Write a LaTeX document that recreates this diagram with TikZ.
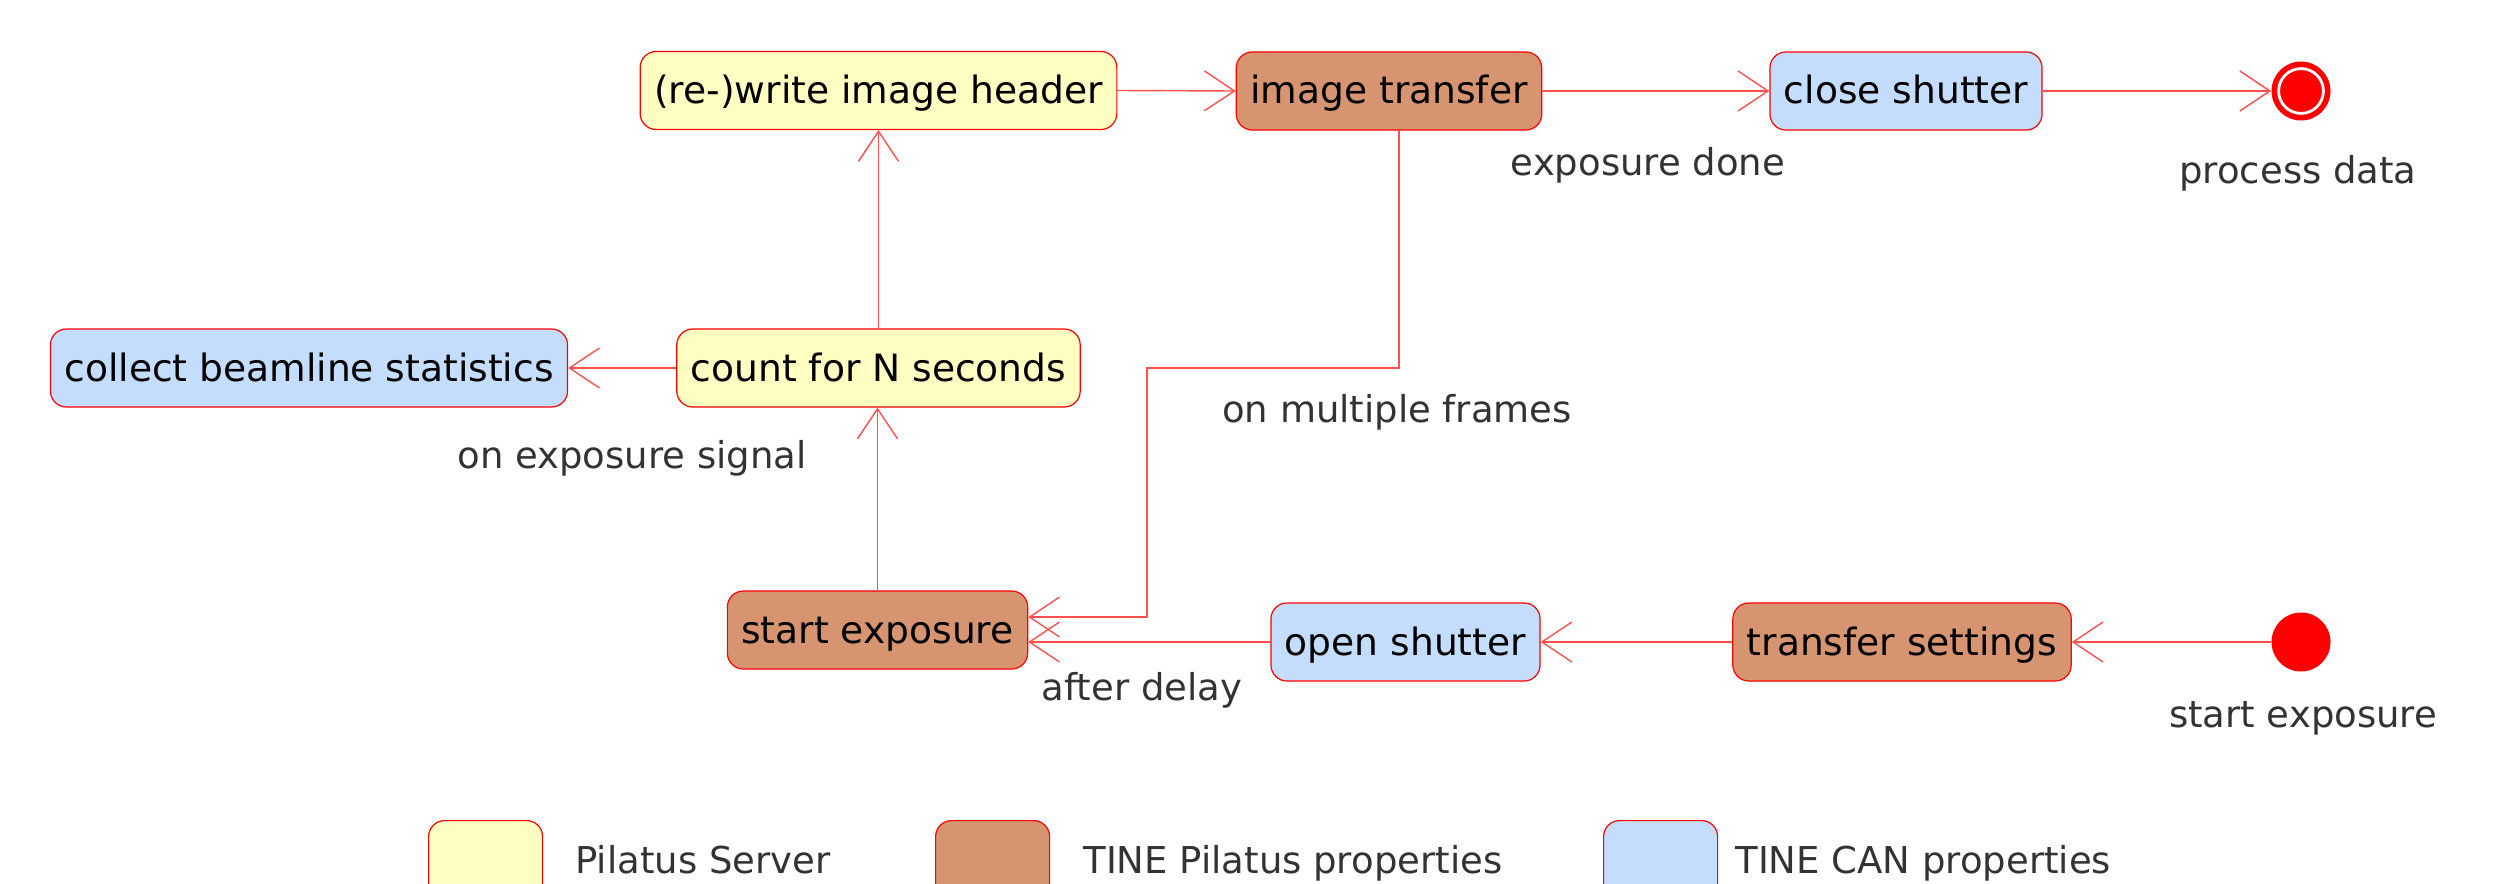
\documentclass[tikz,border=0pt]{standalone}
\usepackage{fontspec}
\setmainfont{DejaVu Sans}
\usetikzlibrary{arrows.meta,calc}
\definecolor{ylw}{HTML}{FEFEC2}
\definecolor{brn}{HTML}{D69570}
\definecolor{blu}{HTML}{C4DDFC}
\definecolor{lnc}{HTML}{FF5050}
\definecolor{lbl}{HTML}{333333}
\tikzset{
  statebox/.style={draw=red, line width=0.6pt, rounded corners=8pt, minimum height=39pt,
    inner xsep=7pt, inner ysep=0pt, text=black, text height=16pt, text depth=3pt,
    font=\fontsize{18.8}{22}\selectfont},
  yst/.style={statebox, fill=ylw},
  bst/.style={statebox, fill=brn},
  cst/.style={statebox, fill=blu},
  dot/.style={circle, fill=red, minimum size=29.5pt, inner sep=0pt},
  arr/.style={draw=lnc, line width=0.7pt, -{Straight Barb[length=15pt,width=20pt,line width=0.7pt]}},
  lab/.style={text=lbl, anchor=base, inner sep=0pt},
  legbox/.style={minimum width=57pt, minimum height=40pt, anchor=north west}
}
\begin{document}
\begin{tikzpicture}[x=0.5pt, y=-0.5pt, font=\fontsize{18.5}{22}\selectfont]
\useasboundingbox (0,0) rectangle (2493,883);
\clip (0,0) rectangle (2493,883);
% states
\node[yst] (hdr) at (878.5,90.5) {(re-)write image header};
\node[bst] (itr) at (1389,91) {image transfer};
\node[cst] (cls) at (1906,91) {close shutter};
\node[dot] (fin) at (2301,91) {};
\draw[white, line width=1.4pt] (fin.center) circle[radius=11.2pt];
\node[cst] (col) at (309,368) {collect beamline statistics};
\node[yst] (cnt) at (878.5,368) {count for N seconds};
\node[bst] (sex) at (877.5,630) {start exposure};
\node[cst] (opn) at (1405.5,642) {open shutter};
\node[bst] (trs) at (1902,642) {transfer settings};
\node[dot] (ini) at (2301,642) {};
\coordinate (bend) at (1147,368);
% connectors
\draw[arr] (hdr.east) -- (itr.west);
\draw[arr] (itr.east) -- (cls.west);
\draw[arr] (cls.east) -- (fin.west);
\draw[arr] (cnt.north) -- (hdr.south);
\draw[arr] (cnt.west) -- (col.east);
\draw[arr] (sex.north) -- (cnt.south -| sex.north);
\draw[arr] (ini.west) -- (trs.east);
\draw[arr] (trs.west) -- (opn.east);
\draw[arr] (opn.west) -- (opn.west -| sex.east);
\draw[arr] ($(itr.south)+(10,0)$) |- (bend) |- ($(sex.east)+(0,-13)$);
% labels
\node[lab] (l1) at (1648,175) {exposure done};
\node[lab] (l2) at (2298,183) {process data};
\node[lab] (l3) at (632,468) {on exposure signal};
\node[lab] (l4) at (1397,422) {on multiple frames};
\node[lab] (l5) at (1142,700) {after delay};
\node[lab] (l6) at (2303,727) {start exposure};
% legend
\node[yst, legbox] (lg1) at (428,820) {};
\node[bst, legbox] (lg2) at (935,820) {};
\node[cst, legbox] (lg3) at (1603,820) {};
\node[lab, anchor=base west] (lt1) at (575,873) {Pilatus Server};
\node[lab, anchor=base west] (lt2) at (1083,873) {TINE Pilatus properties};
\node[lab, anchor=base west] (lt3) at (1735,873) {TINE CAN properties};
\end{tikzpicture}
\end{document}
